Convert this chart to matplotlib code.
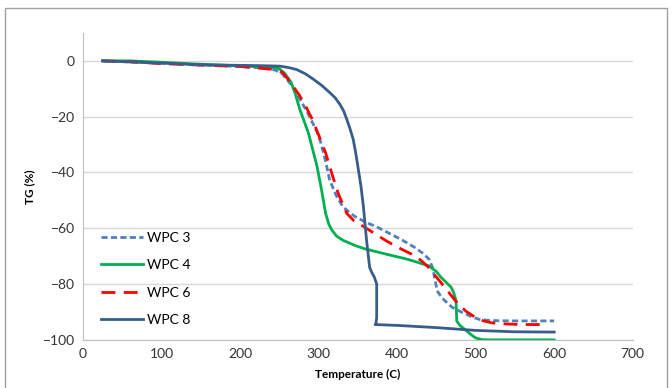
import matplotlib.pyplot as plt
from matplotlib.patches import Rectangle

plt.rcParams['font.family'] = ['Lato', 'DejaVu Sans']

# WPC 3 (short dashes)
t_wpc3 = [25, 100, 150, 200, 230, 245, 254, 265, 276, 285, 292, 298, 303, 309, 314, 322, 331, 340, 347, 360, 374, 390, 407, 422, 434, 441, 445, 448, 451, 456, 461, 470, 483, 495, 505, 520, 549, 600]
tg_wpc3 = [0, -0.8, -1.5, -2.0, -2.6, -3.3, -4.7, -8.5, -13.7, -18, -22, -25.5, -29.4, -36, -42.6, -48, -52.3, -54.5, -55.9, -57.8, -59.5, -61.8, -64.3, -66.8, -69.2, -71.2, -74, -78, -82.4, -84.5, -86, -88.3, -90.2, -91.7, -92.7, -93.1, -93.2, -93.2]

# WPC 4 (green)
t_wpc4 = [25, 60, 100, 150, 200, 240, 250, 257, 265, 270, 276, 287, 298, 303, 309, 313, 317, 323, 331, 345, 358, 385, 412, 440, 450, 456, 463, 469, 472, 475, 476, 480, 489, 495, 500, 508, 516, 560, 600]
tg_wpc4 = [0, 0, -0.5, -1.2, -1.8, -2.3, -2.8, -4.5, -7.7, -11.5, -17.3, -25.8, -37.8, -45, -54.7, -58.5, -60.7, -62.8, -64.3, -66, -67.3, -69.2, -71, -73.4, -75.5, -77.6, -79.5, -81.2, -83, -86, -93.3, -94.8, -96.9, -98.3, -99.3, -99.9, -100, -100, -100]

# WPC 6 (long dashes)
t_wpc6 = [25, 60, 100, 150, 200, 240, 254, 265, 276, 285, 292, 300, 309, 317, 325, 331, 336, 345, 358, 372, 385, 400, 418, 430, 440, 450, 461, 470, 478, 488, 500, 510, 521, 540, 560, 590]
tg_wpc6 = [0, -0.3, -1.0, -1.5, -2.0, -3.0, -4.1, -8, -12.5, -17, -21, -26.5, -33, -40.5, -47.5, -51.5, -54.7, -57.3, -59.5, -62, -64.3, -66.7, -69.2, -71.4, -74, -77.5, -81.2, -84.5, -87.2, -89.8, -92, -93.2, -93.9, -94.3, -94.5, -94.5]

# WPC 8 (dark blue)
t_wpc8 = [25, 100, 150, 200, 222, 240, 251, 262, 272, 283, 293, 304, 314, 321, 327, 332, 336, 340, 344, 347, 350, 354, 357, 359, 361, 363, 365, 368, 371, 374, 374, 373, 372, 400, 450, 500, 550, 600]
tg_wpc8 = [0, -0.8, -1.4, -1.6, -1.7, -1.8, -1.9, -2.4, -3.1, -4.6, -6.5, -8.8, -11.3, -13.2, -15.5, -18, -21, -24.3, -28, -32.5, -37.8, -45, -52, -58, -64, -69, -74, -76, -77.5, -80, -92, -94.3, -94.5, -94.8, -95.6, -96.6, -97.1, -97.2]

series = [
    ("WPC 3", t_wpc3, tg_wpc3, "#4F81BD", (0, (2.2, 1.2))),
    ("WPC 4", t_wpc4, tg_wpc4, "#00B050", "-"),
    ("WPC 6", t_wpc6, tg_wpc6, "#FF0000", (0, (5, 3))),
    ("WPC 8", t_wpc8, tg_wpc8, "#385D8A", "-"),
]

fig = plt.figure(figsize=(6.72, 3.88), dpi=100)
ax = fig.add_axes([0.1235, 0.124, 0.818, 0.791])

for name, t, tg, color, ls in series:
    ax.plot(t, tg, color=color, linestyle=ls, linewidth=2, label=name)

ax.set_xlim(0, 700)
ax.set_ylim(-100, 10)
ax.set_xticks(range(0, 701, 100))
ax.set_yticks(range(-100, 1, 20))
ax.grid(axis="y", color="#D9D9D9", linewidth=1)
ax.set_axisbelow(True)
for side in ["top", "right"]:
    ax.spines[side].set_visible(False)
for side in ["left", "bottom"]:
    ax.spines[side].set_color("#BFBFBF")
ax.tick_params(length=0, labelsize=10, colors="#333333", pad=6)

ax.set_xlabel("Temperature (C)", fontsize=8.5, fontweight="bold", labelpad=6)
ax.set_ylabel("TG (%)", fontsize=8.5, fontweight="bold", labelpad=5)

ax.legend(loc="lower left", bbox_to_anchor=(0.01, 0.005), frameon=False, fontsize=10,
          labelspacing=1.1, handlelength=3, handletextpad=0.3)

fig.patches.append(Rectangle((0.007, -0.01), 0.986, 0.99, transform=fig.transFigure,
                             fill=False, edgecolor="#A0A0A0", linewidth=1))

fig.savefig("out.png", dpi=100)
